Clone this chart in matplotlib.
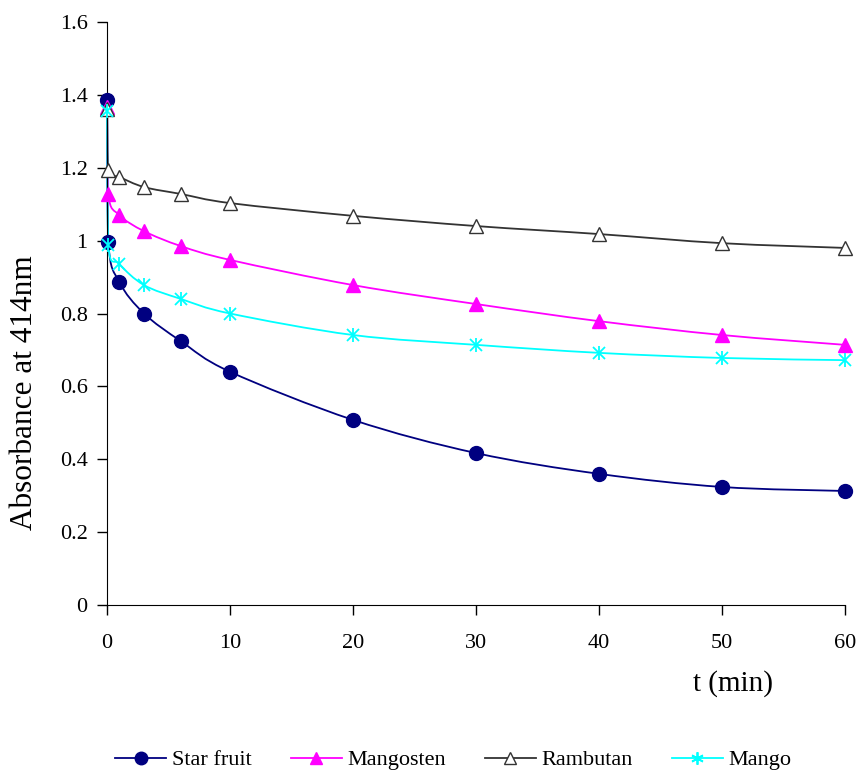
import numpy as np
import matplotlib
matplotlib.use("Agg")
import matplotlib.pyplot as plt
from matplotlib.path import Path
from matplotlib.patches import PathPatch
from matplotlib.lines import Line2D

plt.rcParams['font.family'] = ['Liberation Serif', 'DejaVu Serif']

t_min = [0, 0.1, 1, 3, 6, 10, 20, 30, 40, 50, 60]
star_fruit = [1.386, 0.996, 0.886, 0.800, 0.724, 0.640, 0.508, 0.417, 0.360, 0.324, 0.313]
mangosten = [1.367, 1.127, 1.070, 1.026, 0.985, 0.947, 0.878, 0.826, 0.779, 0.741, 0.714]
rambutan = [1.360, 1.194, 1.175, 1.147, 1.128, 1.103, 1.068, 1.040, 1.018, 0.993, 0.980]
mango = [1.356, 0.988, 0.936, 0.878, 0.840, 0.800, 0.741, 0.714, 0.692, 0.678, 0.672]


def smooth_path(x, y):
    # excel-like smoothed line, control points kept inside each x step
    p = np.column_stack([x, y]).astype(float)
    verts = [p[0]]
    codes = [Path.MOVETO]
    n = len(p)
    for i in range(n - 1):
        p0 = p[i - 1] if i > 0 else p[i]
        p3 = p[i + 2] if i + 2 < n else p[i + 1]
        dx = p[i + 1][0] - p[i][0]
        d1 = (p[i + 1] - p0) / 6.0
        d2 = (p3 - p[i]) / 6.0
        if d1[0] > dx:
            d1 = d1 * dx / d1[0]
        if d2[0] > dx:
            d2 = d2 * dx / d2[0]
        verts += [p[i] + d1, p[i + 1] - d2, p[i + 1]]
        codes += [Path.CURVE4] * 3
    return Path(verts, codes)


fig = plt.figure(figsize=(8.57, 7.74), dpi=100)
ax = fig.add_axes([0.125, 0.2183, 0.861, 0.7533])

series = [
    ("Star fruit", star_fruit, "#000080", "o", "#000080"),
    ("Mangosten", mangosten, "#FF00FF", "^", "#FF00FF"),
    ("Rambutan", rambutan, "#333333", "^", "white"),
    ("Mango", mango, "#00FFFF", "x", "#00FFFF"),
]

handles = []
for name, vals, col, mk, fc in series:
    ax.add_patch(PathPatch(smooth_path(t_min, vals), facecolor='none',
                           edgecolor=col, lw=1.3, zorder=2, clip_on=False))
    if name == "Mango":
        ax.plot(t_min, vals, ls='none', marker='x', ms=9, mew=1.3, color=col,
                zorder=3, clip_on=False)
        ax.plot(t_min, vals, ls='none', marker='|', ms=10, mew=1.3, color=col,
                zorder=3, clip_on=False)
        h = Line2D([], [], color=col, lw=1.3, marker=(6, 2, 0), ms=9, mew=1.3)
    else:
        ax.plot(t_min, vals, ls='none', marker=mk, ms=10, mfc=fc, mec=col,
                mew=1.0, zorder=3, clip_on=False)
        h = Line2D([], [], color=col, lw=1.3, marker=mk, ms=9, mfc=fc, mec=col, mew=1.0)
    handles.append(h)

ax.set_xlim(0, 60)
ax.set_ylim(0, 1.6)
ax.set_xticks([0, 10, 20, 30, 40, 50, 60])
ax.set_yticks([0, 0.2, 0.4, 0.6, 0.8, 1.0, 1.2, 1.4, 1.6])
ax.set_yticklabels(['0', '0.2', '0.4', '0.6', '0.8', '1', '1.2', '1.4', '1.6'])
ax.spines['top'].set_visible(False)
ax.spines['right'].set_visible(False)
ax.tick_params(direction='out', length=7, width=1, labelsize=16)
ax.tick_params(axis='x', pad=14)
ax.tick_params(axis='y', pad=7)
ax.set_ylabel("Absorbance at 414nm", fontsize=22.5)
ax.yaxis.set_label_coords(-0.093, 0.365)
fig.text(0.8555, 0.1175, "t (min)", fontsize=21, ha='center', va='center')

fig.legend(handles, [s[0] for s in series], loc='center', bbox_to_anchor=(0.529, 0.018),
           ncol=4, frameon=False, fontsize=16, handlelength=2.3, columnspacing=1.75,
           handletextpad=0.25)

fig.savefig("out.png", dpi=100)
